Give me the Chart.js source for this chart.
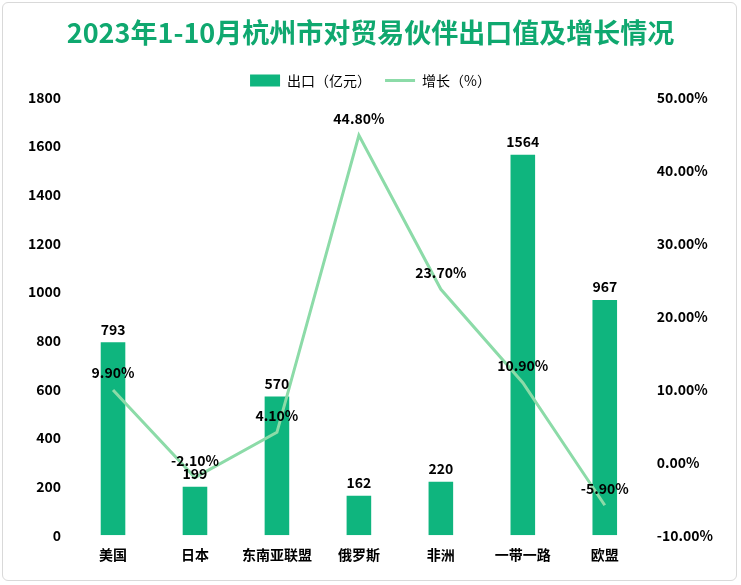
<!DOCTYPE html>
<html><head><meta charset="utf-8">
<script src="https://cdn.jsdelivr.net/npm/chart.js@4"></script>
<style>
body{margin:0;background:#fff;}
#wrap{position:absolute;left:2px;top:2px;width:735px;height:579px;border:1px solid #d9d9d9;border-radius:6px;box-sizing:border-box;}
</style></head><body>
<div id="wrap"><canvas id="c" width="735" height="579"></canvas></div>
<script>
const categories=["美国","日本","东南亚联盟","俄罗斯","非洲","一带一路","欧盟"];
const exportValues=[793,199,570,162,220,1564,967];
const growthValues=[9.9,-2.1,4.1,44.8,23.7,10.9,-5.9];
const font="'Noto Sans CJK SC','Noto Sans',sans-serif";
const labelPlugin={id:'lbl',afterDatasetsDraw(ch){
 const ctx=ch.ctx;ctx.save();ctx.font="bold 14px "+font;ctx.fillStyle="#000";ctx.textAlign="center";ctx.textBaseline="bottom";
 ch.getDatasetMeta(0).data.forEach((b,i)=>ctx.fillText(exportValues[i],b.x,b.y-6));
 ch.getDatasetMeta(1).data.forEach((p,i)=>ctx.fillText(growthValues[i].toFixed(2)+"%",p.x,p.y-10));
 ctx.restore();}};
new Chart(document.getElementById('c'),{
 data:{labels:categories,datasets:[
  {type:'bar',label:'出口（亿元）',data:exportValues,backgroundColor:'#0fb57e',yAxisID:'y',barPercentage:0.3,categoryPercentage:1,order:2,pointStyle:'rect'},
  {type:'line',label:'增长（%）',data:growthValues,borderColor:'#8cdba8',backgroundColor:'#8cdba8',borderWidth:3,pointRadius:0,yAxisID:'y1',tension:0,order:1,pointStyle:'line'}
 ]},
 options:{responsive:false,animation:false,
  layout:{padding:{left:22,right:22,bottom:16,top:0}},
  plugins:{title:{display:true,text:'2023年1-10月杭州市对贸易伙伴出口值及增长情况',color:'#0fa86f',font:{family:font,size:27,weight:'bold'},padding:{top:14,bottom:10}},
   legend:{labels:{font:{family:font,size:14},color:'#000',usePointStyle:true,pointStyleWidth:30,boxHeight:12,padding:14,sort:(a,b)=>a.datasetIndex-b.datasetIndex},padding:20},tooltip:{enabled:false}},
  scales:{
   x:{grid:{display:false},border:{display:false},ticks:{color:'#000',font:{family:font,size:14,weight:'bold'}}},
   y:{min:0,max:1800,ticks:{stepSize:200,color:'#000',font:{family:font,size:14,weight:'bold'},callback:v=>String(v)},grid:{display:false},border:{display:false}},
   y1:{position:'right',min:-10,max:50,ticks:{stepSize:10,color:'#000',font:{family:font,size:14,weight:'bold'},callback:v=>v.toFixed(2)+'%'},grid:{display:false},border:{display:false}}
  }},
 plugins:[labelPlugin]});
</script></body></html>
